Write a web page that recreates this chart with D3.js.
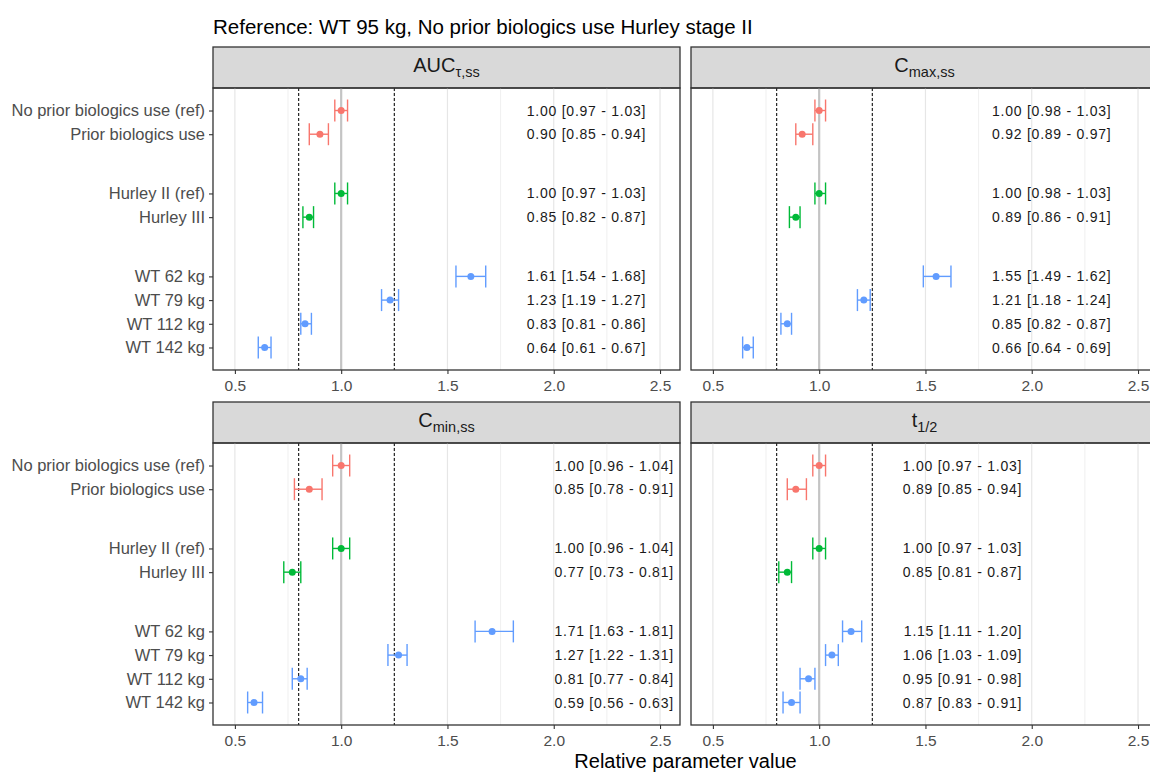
<!DOCTYPE html>
<html>
<head>
<meta charset="utf-8">
<script src="https://cdn.jsdelivr.net/npm/d3@7"></script>
<style>
  body { margin: 0; background: #fff; }
  text { font-family: "Liberation Sans", Arial, sans-serif; }
</style>
</head>
<body>
<div id="mainDiv"></div>
<script>
'use strict';

// ---- data ----
var categories = ['No prior biologics use (ref)', 'Prior biologics use', 'Hurley II (ref)', 'Hurley III',
                  'WT 62 kg', 'WT 79 kg', 'WT 112 kg', 'WT 142 kg'];
var categoryGroup = [0, 0, 1, 1, 2, 2, 2, 2];
var groupColors = ['#F8766D', '#00BA38', '#619CFF'];

var xTicks = [0.5, 1.0, 1.5, 2.0, 2.5];
var xMinorTicks = [0.75, 1.25, 1.75, 2.25];
var boundLines = [0.8, 1.25];

var aucMean  = [1.00, 0.90, 1.00, 0.85, 1.61, 1.23, 0.83, 0.64];
var aucLower = [0.97, 0.85, 0.97, 0.82, 1.54, 1.19, 0.81, 0.61];
var aucUpper = [1.03, 0.94, 1.03, 0.87, 1.68, 1.27, 0.86, 0.67];

var cmaxMean  = [1.00, 0.92, 1.00, 0.89, 1.55, 1.21, 0.85, 0.66];
var cmaxLower = [0.98, 0.89, 0.98, 0.86, 1.49, 1.18, 0.82, 0.64];
var cmaxUpper = [1.03, 0.97, 1.03, 0.91, 1.62, 1.24, 0.87, 0.69];

var cminMean  = [1.00, 0.85, 1.00, 0.77, 1.71, 1.27, 0.81, 0.59];
var cminLower = [0.96, 0.78, 0.96, 0.73, 1.63, 1.22, 0.77, 0.56];
var cminUpper = [1.04, 0.91, 1.04, 0.81, 1.81, 1.31, 0.84, 0.63];

var thalfMean  = [1.00, 0.89, 1.00, 0.85, 1.15, 1.06, 0.95, 0.87];
var thalfLower = [0.97, 0.85, 0.97, 0.81, 1.11, 1.03, 0.91, 0.83];
var thalfUpper = [1.03, 0.94, 1.03, 0.87, 1.20, 1.09, 0.98, 0.91];

var titleText = 'Reference: WT 95 kg, No prior biologics use Hurley stage II';
var xTitleText = 'Relative parameter value';

// ---- layout ----
var myApp = {};

myApp.width = 1150;
myApp.height = 773;
myApp.panelW = 467;
myApp.panelH = 282;
myApp.stripH = 41;
myApp.groupGap = 1.5;
myApp.font = '"Liberation Sans", Arial, sans-serif';

myApp.panels = [
    { main: 'AUC', sub: 'τ,ss', mean: aucMean, lower: aucLower, upper: aucUpper, left: 213, top: 88, yLabels: true },
    { main: 'C', sub: 'max,ss', mean: cmaxMean, lower: cmaxLower, upper: cmaxUpper, left: 691, top: 88, yLabels: false },
    { main: 'C', sub: 'min,ss', mean: cminMean, lower: cminLower, upper: cminUpper, left: 213, top: 443, yLabels: true },
    { main: 't', sub: '1/2', mean: thalfMean, lower: thalfLower, upper: thalfUpper, left: 691, top: 443, yLabels: false }
];

myApp.rowPos = function(i) {
    return i + categoryGroup[i] * myApp.groupGap;
};

myApp.xScale = d3.scaleLinear().domain([0.397, 2.594]).range([0, myApp.panelW]);
myApp.yScale = d3.scaleLinear().domain([-0.95, 10.95]).range([0, myApp.panelH]);

myApp.fmt = d3.format('.2f');

myApp.drawPanel = function(svg, p) {
    var x = myApp.xScale, y = myApp.yScale;
    var g = svg.append('g').attr('transform', 'translate(' + p.left + ',' + p.top + ')');

    // strip
    g.append('rect')
        .attr('x', 0).attr('y', -myApp.stripH)
        .attr('width', myApp.panelW).attr('height', myApp.stripH)
        .attr('fill', '#d9d9d9').attr('stroke', '#333').attr('stroke-width', 1.3);
    var st = g.append('text')
        .attr('x', myApp.panelW / 2).attr('y', -16.5)
        .attr('text-anchor', 'middle')
        .attr('font-size', 20).attr('fill', '#1a1a1a');
    st.append('tspan').text(p.main);
    st.append('tspan').attr('font-size', 14.5).attr('dy', 5).text(p.sub);

    // grid
    g.selectAll('.minor').data(xMinorTicks).enter().append('line')
        .attr('x1', d => x(d)).attr('x2', d => x(d))
        .attr('y1', 0).attr('y2', myApp.panelH)
        .attr('stroke', '#ebebeb').attr('stroke-width', 0.8);
    g.selectAll('.major').data(xTicks).enter().append('line')
        .attr('x1', d => x(d)).attr('x2', d => x(d))
        .attr('y1', 0).attr('y2', myApp.panelH)
        .attr('stroke', '#e6e6e6').attr('stroke-width', 1.2);

    // reference line at 1
    g.append('line')
        .attr('x1', x(1)).attr('x2', x(1))
        .attr('y1', 0).attr('y2', myApp.panelH)
        .attr('stroke', '#c4c4c4').attr('stroke-width', 2.2);

    // bounds
    g.selectAll('.bound').data(boundLines).enter().append('line')
        .attr('x1', d => x(d)).attr('x2', d => x(d))
        .attr('y1', 0).attr('y2', myApp.panelH)
        .attr('stroke', '#111').attr('stroke-width', 1.1)
        .attr('stroke-dasharray', '3,2');

    var rows = categories.map(function(c, i) {
        return { label: c, pos: myApp.rowPos(i), color: groupColors[categoryGroup[i]],
                 mean: p.mean[i], lower: p.lower[i], upper: p.upper[i] };
    });

    var bar = g.selectAll('.bar').data(rows).enter().append('g')
        .attr('stroke', d => d.color).attr('fill', d => d.color);
    bar.append('line')
        .attr('x1', d => x(d.lower)).attr('x2', d => x(d.upper))
        .attr('y1', d => y(d.pos)).attr('y2', d => y(d.pos))
        .attr('stroke-width', 1.4);
    bar.append('line')
        .attr('x1', d => x(d.lower)).attr('x2', d => x(d.lower))
        .attr('y1', d => y(d.pos) - 11).attr('y2', d => y(d.pos) + 11)
        .attr('stroke-width', 1.4);
    bar.append('line')
        .attr('x1', d => x(d.upper)).attr('x2', d => x(d.upper))
        .attr('y1', d => y(d.pos) - 11).attr('y2', d => y(d.pos) + 11)
        .attr('stroke-width', 1.4);
    bar.append('circle')
        .attr('cx', d => x(d.mean)).attr('cy', d => y(d.pos))
        .attr('r', 3.5).attr('stroke', 'none');

    // value labels
    var labelX = d3.max(p.upper) + 0.755;
    g.selectAll('.val').data(rows).enter().append('text')
        .attr('x', x(labelX)).attr('y', d => y(d.pos))
        .attr('dy', '0.36em')
        .attr('text-anchor', 'end')
        .attr('font-size', 14).attr('letter-spacing', 0.75).attr('fill', '#1a1a1a')
        .text(d => myApp.fmt(d.mean) + ' [' + myApp.fmt(d.lower) + ' - ' + myApp.fmt(d.upper) + ']');

    // axes
    var xAxis = d3.axisBottom(x).tickValues(xTicks).tickFormat(d3.format('.1f')).tickSize(4).tickPadding(6);
    var xg = g.append('g').attr('transform', 'translate(0,' + myApp.panelH + ')').call(xAxis);
    xg.select('.domain').remove();
    xg.selectAll('line').attr('stroke', '#333').attr('stroke-width', 1.1);
    xg.selectAll('text').attr('font-size', 15.5).attr('fill', '#4d4d4d')
        .attr('font-family', myApp.font);

    if (p.yLabels) {
        var yAxis = d3.axisLeft(y).tickValues(rows.map(d => d.pos))
            .tickFormat(function(d, i) { return categories[i]; })
            .tickSize(4).tickPadding(4);
        var yg = g.append('g').call(yAxis);
        yg.select('.domain').remove();
        yg.selectAll('line').attr('stroke', '#333').attr('stroke-width', 1.1);
        yg.selectAll('text').attr('font-size', 16.5).attr('fill', '#4d4d4d')
            .attr('font-family', myApp.font);
    }

    // panel border
    g.append('rect')
        .attr('width', myApp.panelW).attr('height', myApp.panelH)
        .attr('fill', 'none').attr('stroke', '#333').attr('stroke-width', 1.3);
};

myApp.run = function() {
    var svg = d3.select('#mainDiv').append('svg')
        .attr('width', myApp.width).attr('height', myApp.height);

    svg.append('text')
        .attr('x', 213).attr('y', 34)
        .attr('font-size', 20.5).attr('fill', '#000')
        .text(titleText);

    myApp.panels.forEach(function(p) { myApp.drawPanel(svg, p); });

    svg.append('text')
        .attr('x', (213 + 691 + myApp.panelW) / 2).attr('y', 768)
        .attr('text-anchor', 'middle')
        .attr('font-size', 20).attr('fill', '#000')
        .text(xTitleText);
};

window.onload = function() {
    myApp.run();
};
</script>
</body>
</html>
